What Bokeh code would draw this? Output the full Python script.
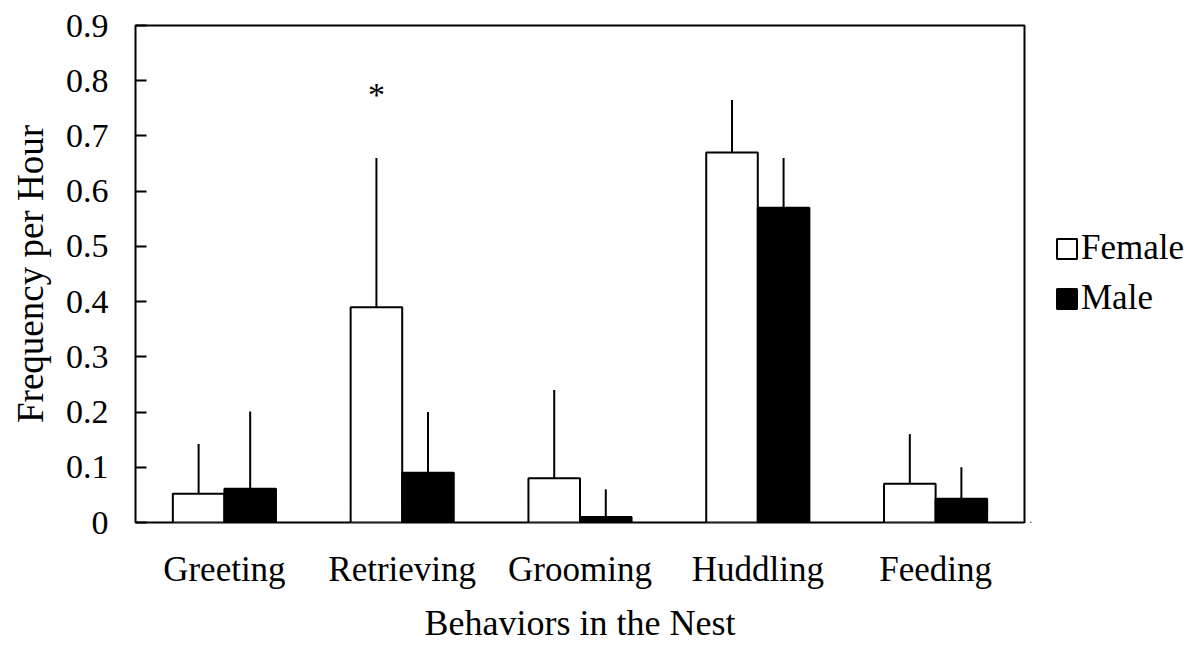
from bokeh.plotting import figure
from bokeh.layouts import row
from bokeh.models import (FactorRange, Range1d, ColumnDataSource, Legend, LegendItem,
                          FixedTicker, CustomJSTickFormatter)
from bokeh.transform import dodge
from bokeh.core.properties import value
from bokeh.embed import file_html
from bokeh.resources import INLINE

# Mean frequency per hour of nest behaviours, with upward standard-error bars
behaviors = ["Greeting", "Retrieving", "Grooming", "Huddling", "Feeding"]
female_mean = [0.052, 0.39, 0.08, 0.67, 0.07]
female_err = [0.09, 0.27, 0.16, 0.095, 0.09]
male_mean = [0.061, 0.09, 0.01, 0.57, 0.043]
male_err = [0.14, 0.11, 0.05, 0.09, 0.057]
series_names = ["Female", "Male"]
series_fill = ["white", "black"]

# significance marker
star_behavior = "Retrieving"
star_y = 0.775

y_ticks = [0, 0.1, 0.2, 0.3, 0.4, 0.5, 0.6, 0.7, 0.8, 0.9]

FONT = "Liberation Serif"
OFF = 0.145
BAR_W = 0.29

src = ColumnDataSource(dict(
    cat=behaviors,
    f=female_mean,
    f_top=[m + e for m, e in zip(female_mean, female_err)],
    m=male_mean,
    m_top=[m + e for m, e in zip(male_mean, male_err)],
))

p = figure(width=1030, height=645, x_range=FactorRange(*behaviors),
           y_range=Range1d(0, 0.9), output_backend="svg", toolbar_location=None,
           min_border_left=135, min_border_right=6, min_border_top=25,
           min_border_bottom=122)
p.background_fill_color = "white"
p.border_fill_color = "white"
p.outline_line_color = "black"
p.outline_line_width = 2
p.xgrid.visible = False
p.ygrid.visible = False

# error bars (upper half only)
p.segment(x0=dodge("cat", -OFF, range=p.x_range), y0="f",
          x1=dodge("cat", -OFF, range=p.x_range), y1="f_top",
          source=src, line_color="black", line_width=2)
p.segment(x0=dodge("cat", OFF, range=p.x_range), y0="m",
          x1=dodge("cat", OFF, range=p.x_range), y1="m_top",
          source=src, line_color="black", line_width=2)

p.vbar(x=dodge("cat", -OFF, range=p.x_range), top="f", bottom=0, width=BAR_W,
       source=src, fill_color=series_fill[0], line_color="black", line_width=2)
p.vbar(x=dodge("cat", OFF, range=p.x_range), top="m", bottom=0, width=BAR_W,
       source=src, fill_color=series_fill[1], line_color="black", line_width=2)

p.text(x=dodge("x", -OFF, range=p.x_range), y="y", text=value("*"),
       source=ColumnDataSource(dict(x=[star_behavior], y=[star_y])),
       text_font=value(FONT), text_font_size="34px", text_align="center",
       text_baseline="alphabetic", text_color="black")

# axes (the frame outline draws the box itself)
xa = p.xaxis[0]
xa.axis_line_color = None
xa.major_tick_line_color = None
xa.minor_tick_line_color = None
xa.major_label_text_font = FONT
xa.major_label_text_font_size = "35px"
xa.major_label_text_color = "black"
xa.major_label_standoff = 21
xa.axis_label = "Behaviors in the Nest"
xa.axis_label_text_font = FONT
xa.axis_label_text_font_size = "36px"
xa.axis_label_text_font_style = "normal"
xa.axis_label_text_color = "black"
xa.axis_label_standoff = 11

ya = p.yaxis[0]
ya.ticker = FixedTicker(ticks=y_ticks)
ya.formatter = CustomJSTickFormatter(code="return tick == 0 ? '0' : tick.toFixed(1);")
ya.axis_line_color = None
ya.major_tick_in = 11
ya.major_tick_out = 0
ya.major_tick_line_width = 2
ya.minor_tick_line_color = None
ya.major_label_text_font = FONT
ya.major_label_text_font_size = "34px"
ya.major_label_text_color = "black"
ya.major_label_standoff = 27
ya.axis_label = "Frequency per Hour"
ya.axis_label_text_font = FONT
ya.axis_label_text_font_size = "37px"
ya.axis_label_text_font_style = "normal"
ya.axis_label_text_color = "black"
ya.axis_label_standoff = 12

# side panel holding the legend; swatch glyphs sit outside its visible range
lg = figure(width=174, height=645, x_range=Range1d(0, 1), y_range=Range1d(0, 1),
            output_backend="svg", toolbar_location=None, x_axis_type=None,
            y_axis_type=None, min_border=0, outline_line_color=None)
lg.xgrid.visible = False
lg.ygrid.visible = False
swatches = [lg.vbar(x=[-5], top=[-5], bottom=[-6], width=0.1, fill_color=c,
                    line_color="black", line_width=2) for c in series_fill]

legend = Legend(items=[LegendItem(label=n, renderers=[r])
                       for n, r in zip(series_names, swatches)],
                location=(24, 204), orientation="vertical", padding=0, margin=0,
                spacing=10, glyph_width=25, glyph_height=25, label_standoff=2,
                label_text_font=FONT, label_text_font_size="35px",
                label_text_color="black", border_line_color=None,
                background_fill_alpha=0)
lg.add_layout(legend, "center")

open("out.html", "w").write(file_html(row(p, lg), INLINE))
